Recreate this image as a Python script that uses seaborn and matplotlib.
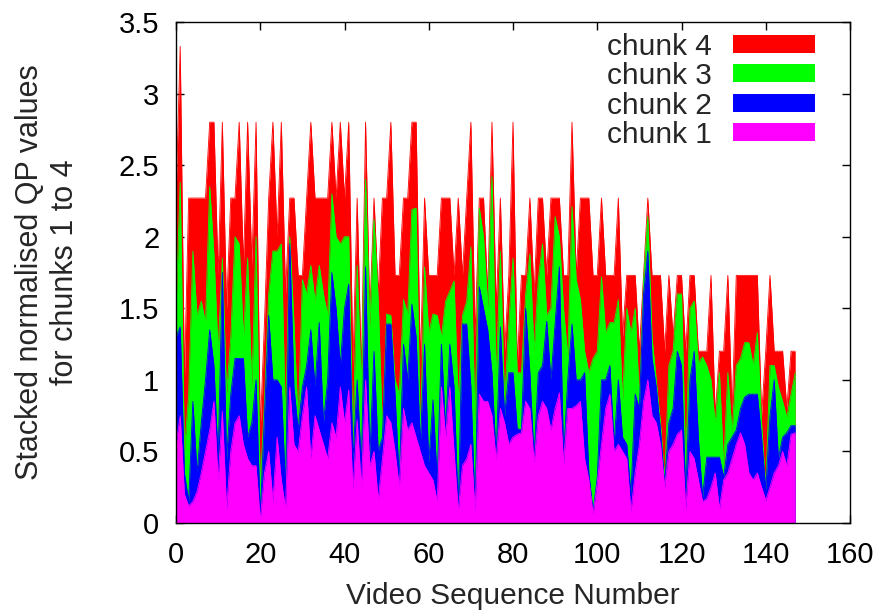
import numpy as np
import pandas as pd
import matplotlib
matplotlib.use("Agg")
import matplotlib.pyplot as plt
from matplotlib.ticker import FuncFormatter, MultipleLocator
import seaborn as sns

# Normalised QP value of each chunk, per video sequence (0..147)
chunk1 = [0.55, 0.75, 0.20, 0.12, 0.15, 0.22, 0.35, 0.50, 0.65, 0.85,
          0.30, 0.78, 0.10, 0.50, 0.70, 0.75, 0.55, 0.45, 0.40, 0.40,
          0.02, 0.35, 0.50, 0.15, 0.60, 0.30, 0.10, 0.95, 0.55, 0.50,
          0.75, 0.95, 0.45, 0.75, 0.65, 0.55, 0.45, 0.70, 0.60, 0.95,
          0.70, 0.93, 0.23, 0.72, 0.25, 1.00, 0.40, 0.50, 0.16, 0.45,
          0.75, 0.70, 0.50, 0.25, 0.80, 0.65, 0.70, 0.60, 0.50, 0.40,
          0.35, 0.30, 0.15, 0.95, 0.60, 0.95, 0.50, 0.08, 0.40, 0.45,
          0.55, 0.08, 0.90, 0.85, 0.85, 0.75, 0.44, 0.80, 0.70, 0.55,
          0.60, 0.62, 0.63, 0.85, 0.80, 0.42, 0.75, 0.85, 0.80, 0.65,
          0.80, 0.91, 0.42, 0.80, 0.80, 0.82, 0.85, 0.45, 0.30, 0.06,
          0.28, 0.55, 0.80, 0.90, 0.50, 0.55, 0.50, 0.45, 0.08, 0.35,
          0.55, 0.85, 1.00, 0.75, 0.70, 0.55, 0.25, 0.50, 0.55, 0.62,
          0.65, 0.10, 0.50, 0.45, 0.30, 0.15, 0.17, 0.25, 0.35, 0.10,
          0.30, 0.35, 0.45, 0.55, 0.63, 0.55, 0.35, 0.30, 0.35, 0.25,
          0.16, 0.25, 0.35, 0.40, 0.50, 0.40, 0.62, 0.63]
chunk2 = [0.75, 0.62, 0.15, 0.03, 0.70, 0.13, 0.35, 0.50, 0.70, 0.25,
          0.15, 0.97, 0.35, 0.40, 0.45, 0.40, 0.60, 0.15, 0.30, 0.60,
          0.03, 0.40, 0.95, 0.85, 0.40, 0.65, 0.14, 1.00, 0.40, 0.15,
          0.20, 0.15, 0.90, 0.20, 0.75, 0.15, 0.55, 1.05, 0.90, 0.15,
          0.80, 0.74, 0.21, 0.28, 0.15, 0.79, 0.06, 0.70, 0.34, 0.15,
          0.64, 0.69, 0.40, 0.05, 0.45, 0.35, 0.83, 0.70, 0.05, 0.85,
          0.07, 0.56, 0.15, 0.30, 0.05, 0.30, 0.45, 0.02, 0.99, 0.94,
          0.40, 0.02, 0.75, 0.65, 0.50, 0.30, 0.02, 0.57, 0.05, 0.50,
          0.45, 0.04, 0.02, 0.65, 0.25, 0.04, 0.30, 0.25, 0.61, 0.35,
          0.60, 0.88, 0.05, 0.20, 0.59, 0.18, 0.15, 0.60, 0.05, 0.02,
          0.04, 0.45, 0.20, 0.20, 0.05, 0.45, 0.10, 0.10, 0.12, 0.55,
          0.25, 0.75, 0.90, 0.40, 0.25, 0.10, 0.02, 0.20, 0.25, 0.58,
          0.45, 0.10, 0.50, 0.75, 0.30, 0.03, 0.29, 0.21, 0.11, 0.36,
          0.02, 0.20, 0.15, 0.10, 0.17, 0.33, 0.55, 0.60, 0.55, 0.35,
          0.07, 0.50, 0.65, 0.05, 0.10, 0.23, 0.06, 0.05]
chunk3 = [0.20, 1.01, 0.15, 0.75, 1.05, 1.10, 0.85, 0.40, 1.00, 0.78,
          0.75, 0.10, 0.45, 0.40, 0.85, 0.80, 0.15, 1.25, 0.25, 1.00,
          0.20, 0.10, 0.15, 0.90, 0.90, 1.00, 0.46, 0.05, 0.45, 0.05,
          0.75, 0.50, 0.45, 0.60, 0.40, 0.90, 0.45, 0.55, 0.50, 0.85,
          0.50, 0.33, 0.11, 0.80, 0.55, 0.61, 0.91, 0.92, 1.06, 0.05,
          0.07, 0.06, 0.10, 0.60, 0.31, 0.46, 0.66, 0.90, 0.05, 0.54,
          0.91, 0.60, 1.15, 0.05, 0.90, 0.37, 0.74, 0.75, 0.06, 0.16,
          0.98, 0.60, 0.55, 0.50, 0.16, 1.37, 0.54, 0.53, 0.10, 0.35,
          0.80, 0.39, 0.40, 0.10, 0.83, 0.74, 0.65, 0.85, 0.04, 0.50,
          0.74, 0.21, 1.03, 0.16, 0.82, 0.70, 0.56, 0.15, 0.70, 1.07,
          0.88, 0.72, 0.33, 0.30, 0.85, 0.56, 0.26, 0.95, 1.13, 0.60,
          0.06, 0.10, 0.24, 0.15, 0.05, 0.05, 0.03, 0.40, 0.40, 0.40,
          0.50, 0.20, 0.50, 0.35, 0.52, 0.98, 0.64, 0.54, 0.24, 0.59,
          0.08, 0.50, 0.03, 0.45, 0.35, 0.38, 0.36, 0.20, 0.43, 0.10,
          0.02, 0.35, 0.10, 0.50, 0.25, 0.11, 0.22, 0.37]
chunk4 = [0.77, 0.95, 0.50, 1.37, 0.37, 0.82, 0.72, 0.87, 0.45, 0.92,
          0.53, 0.95, 0.60, 0.97, 0.27, 0.85, 0.50, 0.95, 0.85, 0.80,
          0.40, 0.55, 0.67, 0.90, 0.10, 0.85, 0.90, 0.27, 0.87, 1.03,
          0.03, 0.67, 1.00, 0.72, 0.47, 0.67, 0.82, 0.50, 0.27, 0.85,
          0.27, 0.80, 0.55, 0.47, 0.10, 0.40, 0.08, 0.15, 0.04, 1.62,
          0.81, 1.35, 0.73, 0.83, 0.71, 0.81, 0.61, 0.60, 0.50, 0.48,
          0.40, 0.27, 0.28, 0.97, 0.72, 0.65, 0.04, 1.42, 0.28, 0.72,
          0.87, 0.60, 0.07, 0.27, 0.09, 0.38, 0.50, 0.37, 0.35, 0.33,
          0.95, 0.05, 0.68, 0.13, 0.39, 0.40, 0.57, 0.32, 0.28, 0.77,
          0.13, 0.27, 0.23, 0.57, 0.59, 0.03, 0.71, 1.07, 1.22, 0.58,
          0.53, 0.55, 0.40, 0.33, 0.33, 0.71, 0.44, 0.23, 0.40, 0.23,
          0.34, 0.03, 0.13, 0.43, 0.73, 1.03, 0.90, 0.63, 0.10, 0.13,
          0.13, 0.80, 0.23, 0.18, 0.08, 0.04, 0.10, 0.73, 0.05, 0.15,
          0.80, 0.68, 0.14, 0.63, 0.58, 0.47, 0.47, 0.63, 0.40, 0.05,
          0.95, 0.63, 0.10, 0.25, 0.35, 0.06, 0.30, 0.15]

series_names = ["chunk 1", "chunk 2", "chunk 3", "chunk 4"]
series_colors = ["#ff00ff", "#0000ff", "#00ff00", "#ff0000"]

df = pd.DataFrame({"sequence": np.arange(len(chunk1)),
                   "chunk 1": chunk1, "chunk 2": chunk2,
                   "chunk 3": chunk3, "chunk 4": chunk4})
stacked = df[series_names].cumsum(axis=1)

sns.set_theme(style="ticks")
plt.rcParams["font.family"] = ["Liberation Sans", "DejaVu Sans"]
plt.rcParams["axes.linewidth"] = 1.0
plt.rcParams["axes.edgecolor"] = "black"

fig = plt.figure(figsize=(8.84, 6.14), dpi=100)
ax = fig.add_axes([176 / 884, 1 - 523 / 614, 674 / 884, 501 / 614])

# Stacked areas: the tallest (cumulative total) first, each lower layer on top
for name, color in reversed(list(zip(series_names, series_colors))):
    ax.fill_between(df["sequence"], 0, stacked[name], color=color,
                    linewidth=0, label=name, zorder=2)
    sns.lineplot(x=df["sequence"], y=stacked[name], color=color,
                 linewidth=0.6, ax=ax, legend=False, zorder=2)

ax.set_xlim(0, 160)
ax.set_ylim(0, 3.5)
ax.xaxis.set_major_locator(MultipleLocator(20))
ax.yaxis.set_major_locator(MultipleLocator(0.5))
ax.yaxis.set_major_formatter(FuncFormatter(lambda v, p: f"{v:g}"))
ax.tick_params(axis="both", direction="in", length=6, width=1, top=True,
               right=True, labelsize=21, colors="black")
ax.tick_params(axis="x", pad=13)
ax.tick_params(axis="y", pad=12)
for spine in ax.spines.values():
    spine.set_zorder(5)

ax.set_xlabel("Video Sequence Number", fontsize=21.5, labelpad=9)
ax.set_ylabel("Stacked normalised QP values\nfor chunks 1 to 4", fontsize=22,
              labelpad=28, linespacing=1.2)

handles, labels = ax.get_legend_handles_labels()
ax.legend(handles, labels, loc="upper right", bbox_to_anchor=(0.948, 0.979),
          frameon=False, markerfirst=False, fontsize=21.5, handlelength=2.75,
          handleheight=0.55, labelspacing=0.05, borderpad=0,
          borderaxespad=0, handletextpad=0.7)

fig.savefig("out.png", dpi=100)
